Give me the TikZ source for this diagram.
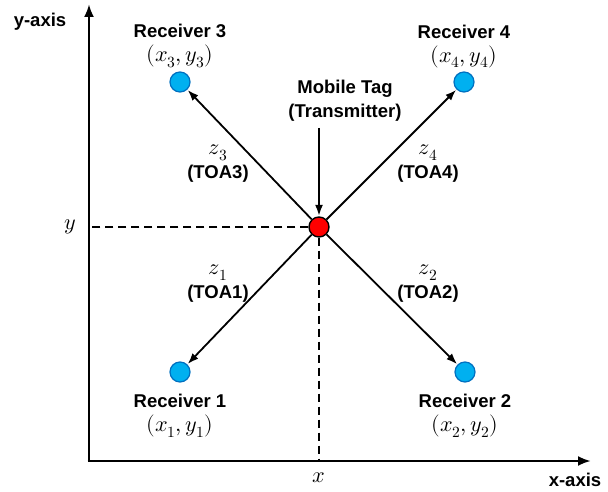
\documentclass[tikz,border=0pt]{standalone}
\usepackage{fontspec}
\usepackage{unicode-math}
\setmainfont{Liberation Sans}
\setmathfont{Latin Modern Math}[Scale=1.2]
\usepackage{xcolor}
\usetikzlibrary{arrows.meta, positioning, calc}

\definecolor{rxfill}{HTML}{00B0F0}
\definecolor{rxline}{HTML}{0070C0}

\begin{document}
\begin{tikzpicture}[x=1pt, y=-1pt,
    every node/.style={font=\fontsize{18.5}{24}\selectfont\bfseries, inner sep=0pt},
    axis/.style={line width=2.6pt, -{Latex[length=13pt, width=10pt]}},
    sig/.style={line width=1.8pt, -{Latex[length=11pt, width=8pt]}, shorten >=0.5pt},
    guide/.style={line width=1.8pt, dash pattern=on 8pt off 5pt},
    rx/.style={circle, draw=rxline, fill=rxfill, line width=1.2pt, minimum size=20pt},
    tx/.style={circle, draw=black, fill=red, line width=1.4pt, minimum size=20pt},
    lbl/.style={align=center}]
    \useasboundingbox (0,0) rectangle (608,492);

    % axes
    \coordinate (origin) at (89,461);
    \coordinate (ytop) at (89,4);
    \coordinate (xend) at (591,461);
    \draw[axis] (origin) -- (ytop);
    \draw[axis] ([xshift=-1.3pt]origin) -- (xend);
    \node (ylab) at (40,22) {y-axis};
    \node (xlab) at (575,480) {x-axis};

    % tag and receivers
    \node[tx] (tag) at (319,227) {};
    \node[rx] (r1) at (180,372) {};
    \node[rx] (r2) at (465,372) {};
    \node[rx] (r3) at (180,82) {};
    \node[rx] (r4) at (464,82) {};

    \node[lbl, anchor=south] (l3) at (180,68) {Receiver 3\\ \mdseries$(x_3,y_3)$};
    \node[lbl, anchor=south] (l4) at (464,68) {Receiver 4\\ \mdseries$(x_4,y_4)$};
    \node[lbl, anchor=north] (l1) at (180,394) {Receiver 1\\ \mdseries$(x_1,y_1)$};
    \node[lbl, anchor=north] (l2) at (465,394) {Receiver 2\\ \mdseries$(x_2,y_2)$};

    % projections onto the axes
    \draw[guide] (tag.west) -- (tag.west -| origin);
    \draw[guide] (tag.south) -- (tag.south |- origin);
    \node (ty) at (70,227) {$y$};
    \node (tx) at (319,478) {$x$};

    % distances
    \draw[sig] (tag) -- (r1);
    \draw[sig] (tag) -- (r2);
    \draw[sig] (tag) -- (r3);
    \draw[sig] (tag) -- (r4);
    \node[lbl] (d3) at (218,164) {$z_3$\\(TOA3)};
    \node[lbl] (d4) at (428,164) {$z_4$\\(TOA4)};
    \node[lbl] (d1) at (218,284) {$z_1$\\(TOA1)};
    \node[lbl] (d2) at (428,284) {$z_2$\\(TOA2)};

    % transmitter label
    \node[lbl] (tlab) at (345,101) {Mobile Tag\\(Transmitter)};
    \coordinate (tin) at (319,128);
    \draw[sig] (tin) -- (tag);
\end{tikzpicture}
\end{document}
